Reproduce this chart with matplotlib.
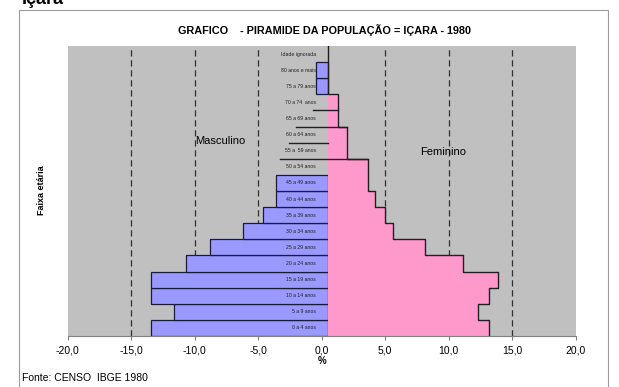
import matplotlib
matplotlib.use("Agg")
import matplotlib.pyplot as plt
import numpy as np
from matplotlib.patches import Rectangle

plt.rcParams['font.family'] = ['Liberation Sans', 'DejaVu Sans']

# faixas etarias, de baixo para cima
faixas = ["0 a 4 anos", "5 a 9 anos", "10 a 14 anos", "15 a 19 anos",
          "20 a 24 anos", "25 a 29 anos", "30 a 34 anos", "35 a 39 anos",
          "40 a 44 anos", "45 a 49 anos", "50 a 54 anos", "55 a  59 anos",
          "60 a 64 anos", "65 a 69 anos", "70 a 74  anos", "75 a 79 anos",
          "80 anos e mais", "Idade ignorada"]

# valores lidos no eixo (%), None = sem barra visivel
masculino = [-13.46, -11.6, -13.46, -13.46, -10.65, -8.8, -6.17, -4.6,
             -3.6, -3.62, None, None, None, None, None, -0.47, -0.47, None]
feminino = [13.17, 12.33, 13.2, 13.9, 11.1, 8.13, 5.64, 4.98,
            4.2, 3.62, 3.67, 1.97, 1.97, 1.31, 1.31, None, None, None]

# origem das barras no grafico original (um pouco deslocada do zero)
origem = 0.48

# tracos soltos no topo de algumas faixas (indice da faixa, inicio, fim)
tracos_faixa = [13, 12, 11, 10]
tracos_ini = [-0.7, -2.0, -2.55, -3.28]
tracos_fim = [1.31, 1.97, 0.48, 3.67]

ticks_x = [-20, -15, -10, -5, 0, 5, 10, 15, 20]

fig = plt.figure(figsize=(6.19, 3.87), dpi=100)
fig.patch.set_facecolor("white")

# moldura do grafico
fig.add_artist(Rectangle((19 / 619, -0.05), 589 / 619, 1.05 - 10 / 387,
                         transform=fig.transFigure, fill=False,
                         edgecolor="#9a9a9a", linewidth=0.8))
fig.text(22 / 619, 1 - 4 / 387, "Içara", fontsize=13, fontweight="bold",
         ha="left", va="baseline")

ax = fig.add_axes([67.7 / 619, 1 - 336 / 387, 508 / 619, 290 / 387])
ax.set_facecolor("#c0c0c0")

y = np.arange(len(faixas))

for xv in ticks_x:
    if xv in (-20, 0, 20):
        continue
    ax.axvline(xv, color="#303030", linewidth=0.9, linestyle=(0, (5, 3)),
               zorder=1)

# barras masculinas
for i, v in enumerate(masculino):
    if v is None:
        continue
    ax.barh(y[i], v - origem, left=origem, height=1.0, color="#9999ff",
            edgecolor="#1a1a3a", linewidth=0.9, zorder=2)

# barras femininas (preenchimento) e contorno em degraus
fem = np.array([origem if v is None else v for v in feminino])
ax.barh(y, fem - origem, left=origem, height=1.0, color="#ff99cc",
        linewidth=0, zorder=2)
xs = np.repeat(fem, 2)
ys = np.ravel(np.column_stack([y - 0.5, y + 0.5]))
ax.plot(xs, ys, color="#202020", linewidth=1.0, zorder=3)

for i, a, b in zip(tracos_faixa, tracos_ini, tracos_fim):
    ax.plot([a, b], [y[i] + 0.5, y[i] + 0.5], color="#202020",
            linewidth=1.0, zorder=3)

for i, nome in enumerate(faixas):
    ax.text(-0.45, y[i], nome, fontsize=3.7, ha="right", va="center",
            color="#202020", zorder=4)

ax.text(-8.0, 11.6, "Masculino", fontsize=8, ha="center", va="center")
ax.text(9.6, 10.9, "Feminino", fontsize=8, ha="center", va="center")

ax.set_xlim(-20, 20)
ax.set_ylim(-0.5, len(faixas) - 0.5)
ax.set_xticks(ticks_x)
ax.set_xticklabels([("%.1f" % t).replace(".", ",") for t in ticks_x],
                   fontsize=7.5)
ax.set_yticks([])
ax.tick_params(axis="x", length=3, color="#808080", pad=4)
for s in ("top", "right", "left"):
    ax.spines[s].set_visible(False)
ax.spines["bottom"].set_color("#808080")

ax.set_xlabel("%", fontsize=7, fontweight="bold", labelpad=0)
fig.text(41 / 619, 1 - 190 / 387, "Faixa etária", rotation=90, fontsize=6.5,
         fontweight="bold", ha="center", va="center")
fig.text(325 / 619, 1 - 30 / 387,
         "GRAFICO    - PIRAMIDE DA POPULAÇÃO = IÇARA - 1980",
         fontsize=7.8, fontweight="bold", ha="center", va="center")
fig.text(22 / 619, 1 - 378 / 387, "Fonte: CENSO  IBGE 1980", fontsize=7.5,
         ha="left", va="center")

fig.savefig("out.png", dpi=100)
